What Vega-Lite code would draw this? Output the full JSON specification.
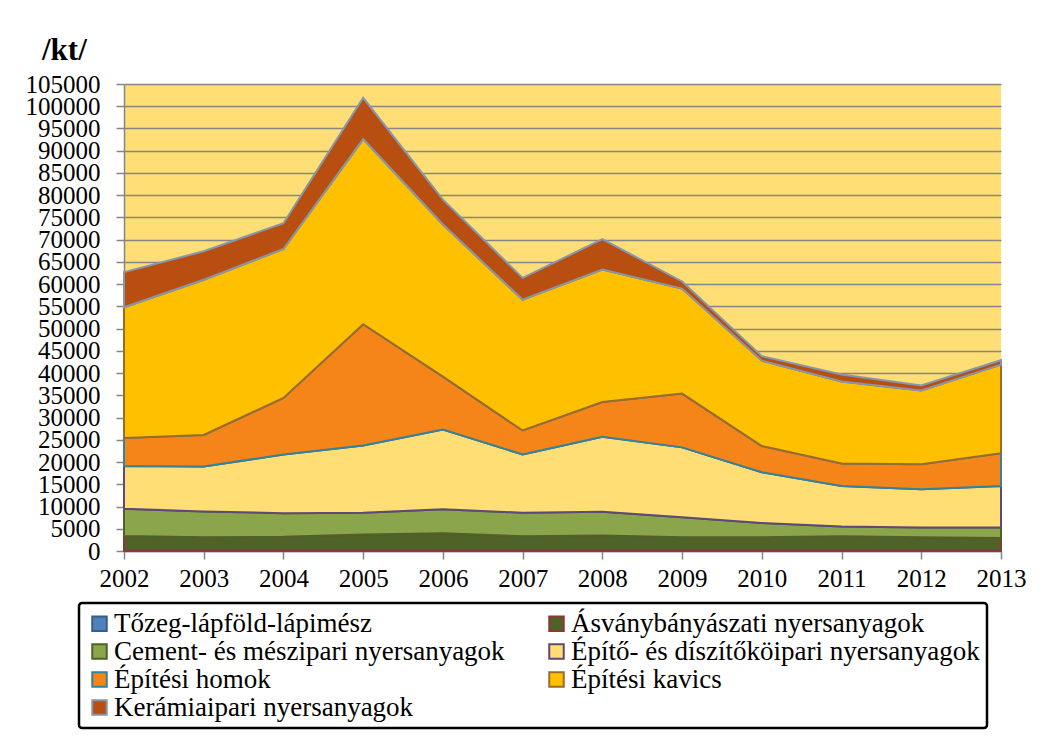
{
  "$schema": "https://vega.github.io/schema/vega-lite/v6.json",
  "width": 877,
  "height": 467,
  "autosize": {"type": "none"},
  "padding": {"left": 124, "top": 84, "right": 42, "bottom": 196},
  "background": "white",
  "title": {"text": "/kt/", "font": "Liberation Serif", "fontSize": 31, "fontWeight": "bold", "anchor": "start", "frame": "group", "dx": -82, "offset": 5, "color": "black"},
  "config": {
    "view": {"stroke": null, "fill": "#FFDE75"},
    "axis": {"labelFont": "Liberation Serif", "labelFontSize": 25, "labelColor": "black", "domainColor": "#868686", "domainWidth": 1.5, "tickColor": "#868686", "tickWidth": 1.5, "tickSize": 8, "gridColor": "#868686", "gridWidth": 1.5, "gridOpacity": 1, "title": null, "labelOverlap": false},
    "legend": {
      "orient": "none", "legendX": -45, "legendY": 519, "direction": "horizontal", "columns": 2, "columnPadding": 38, "rowPadding": 0,
      "labelFont": "Liberation Serif", "labelFontSize": 27, "labelColor": "black", "labelLimit": 700, "labelOffset": 1,
      "symbolType": "square", "symbolSize": 210, "symbolStrokeWidth": 2, "symbolOpacity": 1,
      "strokeColor": "black", "strokeWidth": 2.5, "cornerRadius": 3, "fillColor": "white", "padding": 7
    }
  },
  "data": {"values": [
    {"year":2002,"series":"Tőzeg-lápföld-lápimész","rank":1,"value":100},
    {"year":2002,"series":"Ásványbányászati nyersanyagok","rank":2,"value":3300},
    {"year":2002,"series":"Cement- és mészipari nyersanyagok","rank":3,"value":6100},
    {"year":2002,"series":"Építő- és díszítőköipari nyersanyagok","rank":4,"value":9600},
    {"year":2002,"series":"Építési homok","rank":5,"value":6300},
    {"year":2002,"series":"Építési kavics","rank":6,"value":29400},
    {"year":2002,"series":"Kerámiaipari nyersanyagok","rank":7,"value":7900},
    {"year":2003,"series":"Tőzeg-lápföld-lápimész","rank":1,"value":100},
    {"year":2003,"series":"Ásványbányászati nyersanyagok","rank":2,"value":3000},
    {"year":2003,"series":"Cement- és mészipari nyersanyagok","rank":3,"value":5800},
    {"year":2003,"series":"Építő- és díszítőköipari nyersanyagok","rank":4,"value":10100},
    {"year":2003,"series":"Építési homok","rank":5,"value":7100},
    {"year":2003,"series":"Építési kavics","rank":6,"value":34900},
    {"year":2003,"series":"Kerámiaipari nyersanyagok","rank":7,"value":6400},
    {"year":2004,"series":"Tőzeg-lápföld-lápimész","rank":1,"value":100},
    {"year":2004,"series":"Ásványbányászati nyersanyagok","rank":2,"value":3100},
    {"year":2004,"series":"Cement- és mészipari nyersanyagok","rank":3,"value":5300},
    {"year":2004,"series":"Építő- és díszítőköipari nyersanyagok","rank":4,"value":13200},
    {"year":2004,"series":"Építési homok","rank":5,"value":12700},
    {"year":2004,"series":"Építési kavics","rank":6,"value":33500},
    {"year":2004,"series":"Kerámiaipari nyersanyagok","rank":7,"value":5800},
    {"year":2005,"series":"Tőzeg-lápföld-lápimész","rank":1,"value":100},
    {"year":2005,"series":"Ásványbányászati nyersanyagok","rank":2,"value":3600},
    {"year":2005,"series":"Cement- és mészipari nyersanyagok","rank":3,"value":4900},
    {"year":2005,"series":"Építő- és díszítőköipari nyersanyagok","rank":4,"value":15100},
    {"year":2005,"series":"Építési homok","rank":5,"value":27300},
    {"year":2005,"series":"Építési kavics","rank":6,"value":41600},
    {"year":2005,"series":"Kerámiaipari nyersanyagok","rank":7,"value":9300},
    {"year":2006,"series":"Tőzeg-lápföld-lápimész","rank":1,"value":100},
    {"year":2006,"series":"Ásványbányászati nyersanyagok","rank":2,"value":3900},
    {"year":2006,"series":"Cement- és mészipari nyersanyagok","rank":3,"value":5400},
    {"year":2006,"series":"Építő- és díszítőköipari nyersanyagok","rank":4,"value":17900},
    {"year":2006,"series":"Építési homok","rank":5,"value":11900},
    {"year":2006,"series":"Építési kavics","rank":6,"value":34200},
    {"year":2006,"series":"Kerámiaipari nyersanyagok","rank":7,"value":5600},
    {"year":2007,"series":"Tőzeg-lápföld-lápimész","rank":1,"value":100},
    {"year":2007,"series":"Ásványbányászati nyersanyagok","rank":2,"value":3200},
    {"year":2007,"series":"Cement- és mészipari nyersanyagok","rank":3,"value":5300},
    {"year":2007,"series":"Építő- és díszítőköipari nyersanyagok","rank":4,"value":13100},
    {"year":2007,"series":"Építési homok","rank":5,"value":5400},
    {"year":2007,"series":"Építési kavics","rank":6,"value":29400},
    {"year":2007,"series":"Kerámiaipari nyersanyagok","rank":7,"value":4900},
    {"year":2008,"series":"Tőzeg-lápföld-lápimész","rank":1,"value":100},
    {"year":2008,"series":"Ásványbányászati nyersanyagok","rank":2,"value":3400},
    {"year":2008,"series":"Cement- és mészipari nyersanyagok","rank":3,"value":5300},
    {"year":2008,"series":"Építő- és díszítőköipari nyersanyagok","rank":4,"value":16900},
    {"year":2008,"series":"Építési homok","rank":5,"value":7800},
    {"year":2008,"series":"Építési kavics","rank":6,"value":29800},
    {"year":2008,"series":"Kerámiaipari nyersanyagok","rank":7,"value":6800},
    {"year":2009,"series":"Tőzeg-lápföld-lápimész","rank":1,"value":100},
    {"year":2009,"series":"Ásványbányászati nyersanyagok","rank":2,"value":3000},
    {"year":2009,"series":"Cement- és mészipari nyersanyagok","rank":3,"value":4500},
    {"year":2009,"series":"Építő- és díszítőköipari nyersanyagok","rank":4,"value":15700},
    {"year":2009,"series":"Építési homok","rank":5,"value":12100},
    {"year":2009,"series":"Építési kavics","rank":6,"value":23600},
    {"year":2009,"series":"Kerámiaipari nyersanyagok","rank":7,"value":1600},
    {"year":2010,"series":"Tőzeg-lápföld-lápimész","rank":1,"value":100},
    {"year":2010,"series":"Ásványbányászati nyersanyagok","rank":2,"value":3000},
    {"year":2010,"series":"Cement- és mészipari nyersanyagok","rank":3,"value":3200},
    {"year":2010,"series":"Építő- és díszítőköipari nyersanyagok","rank":4,"value":11400},
    {"year":2010,"series":"Építési homok","rank":5,"value":5900},
    {"year":2010,"series":"Építési kavics","rank":6,"value":19200},
    {"year":2010,"series":"Kerámiaipari nyersanyagok","rank":7,"value":1000},
    {"year":2011,"series":"Tőzeg-lápföld-lápimész","rank":1,"value":100},
    {"year":2011,"series":"Ásványbányászati nyersanyagok","rank":2,"value":3200},
    {"year":2011,"series":"Cement- és mészipari nyersanyagok","rank":3,"value":2200},
    {"year":2011,"series":"Építő- és díszítőköipari nyersanyagok","rank":4,"value":9100},
    {"year":2011,"series":"Építési homok","rank":5,"value":5100},
    {"year":2011,"series":"Építési kavics","rank":6,"value":18400},
    {"year":2011,"series":"Kerámiaipari nyersanyagok","rank":7,"value":1600},
    {"year":2012,"series":"Tőzeg-lápföld-lápimész","rank":1,"value":100},
    {"year":2012,"series":"Ásványbányászati nyersanyagok","rank":2,"value":3000},
    {"year":2012,"series":"Cement- és mészipari nyersanyagok","rank":3,"value":2200},
    {"year":2012,"series":"Építő- és díszítőköipari nyersanyagok","rank":4,"value":8600},
    {"year":2012,"series":"Építési homok","rank":5,"value":5600},
    {"year":2012,"series":"Építési kavics","rank":6,"value":16600},
    {"year":2012,"series":"Kerámiaipari nyersanyagok","rank":7,"value":1100},
    {"year":2013,"series":"Tőzeg-lápföld-lápimész","rank":1,"value":100},
    {"year":2013,"series":"Ásványbányászati nyersanyagok","rank":2,"value":2800},
    {"year":2013,"series":"Cement- és mészipari nyersanyagok","rank":3,"value":2400},
    {"year":2013,"series":"Építő- és díszítőköipari nyersanyagok","rank":4,"value":9300},
    {"year":2013,"series":"Építési homok","rank":5,"value":7400},
    {"year":2013,"series":"Építési kavics","rank":6,"value":19900},
    {"year":2013,"series":"Kerámiaipari nyersanyagok","rank":7,"value":1000}
  ]},
  "mark": {"type": "area", "strokeWidth": 2, "fillOpacity": 1, "strokeJoin": "miter"},
  "encoding": {
    "x": {"field": "year", "type": "quantitative", "scale": {"domain": [2002, 2013], "nice": false, "zero": false},
      "axis": {"values": [2002,2003,2004,2005,2006,2007,2008,2009,2010,2011,2012,2013], "format": "d", "grid": false, "labelPadding": 7, "labelFlush": false}},
    "y": {"field": "value", "type": "quantitative", "stack": "zero", "scale": {"domain": [0, 105000], "nice": false},
      "axis": {"values": [0,5000,10000,15000,20000,25000,30000,35000,40000,45000,50000,55000,60000,65000,70000,75000,80000,85000,90000,95000,100000,105000], "format": "d", "labelPadding": 16}},
    "order": {"field": "rank", "type": "quantitative", "sort": "ascending"},
    "fill": {"field": "series", "type": "nominal", "sort": null,
      "scale": {"domain": ["Tőzeg-lápföld-lápimész","Ásványbányászati nyersanyagok","Cement- és mészipari nyersanyagok","Építő- és díszítőköipari nyersanyagok","Építési homok","Építési kavics","Kerámiaipari nyersanyagok"],
        "range": ["#4F81BD","#4F6228","#8AA54C","#FFDE75","#F58518","#FFC000","#B84F10"]},
      "legend": {"title": null, "labelFont": "Liberation Serif", "labelFontSize": 27, "labelColor": "black", "labelLimit": 700}},
    "stroke": {"field": "series", "type": "nominal", "sort": null,
      "scale": {"domain": ["Tőzeg-lápföld-lápimész","Ásványbányászati nyersanyagok","Cement- és mészipari nyersanyagok","Építő- és díszítőköipari nyersanyagok","Építési homok","Építési kavics","Kerámiaipari nyersanyagok"],
        "range": ["#385D8A","#8C3836","#4F6228","#5F497A","#31849B","#9C6A2B","#8497B0"]},
      "legend": {"title": null}}
  }
}
